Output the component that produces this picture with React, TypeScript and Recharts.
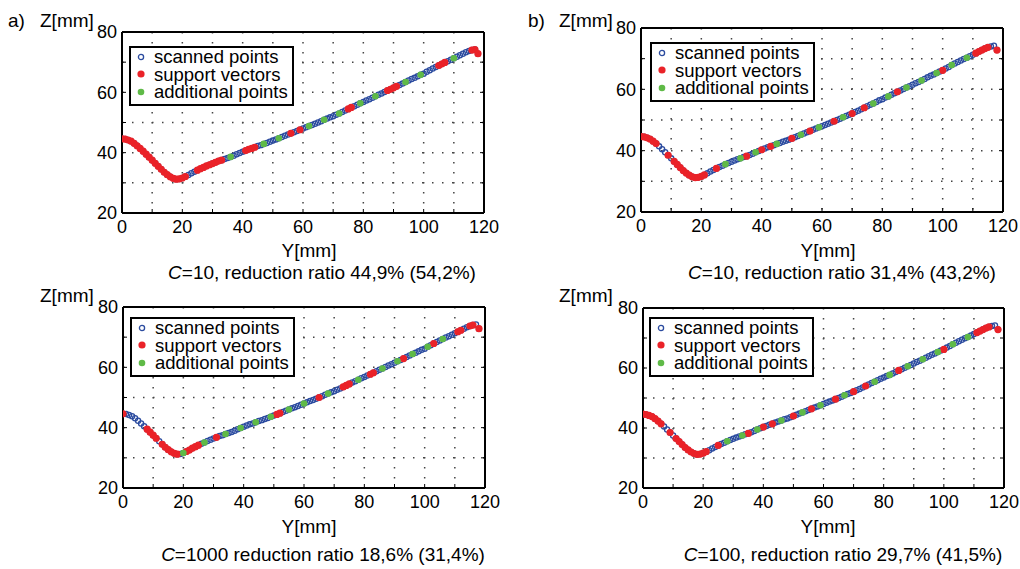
import React from "react";
import { CartesianGrid, Legend, Scatter, ScatterChart, XAxis, YAxis } from "recharts";

const BLUE = "#2b4b9f";
const RED = "#ea2228";
const GREEN = "#5fba47";
const FONT = "'Liberation Sans', Arial, Helvetica, sans-serif";

// scanned profile, Y[mm] -> Z[mm]
const profileY = [
  0, 1, 2, 3, 4, 5, 6, 7, 8, 9, 10, 11, 12, 13, 14, 15, 16, 17, 18, 19,
  20, 21, 22, 23, 24, 25, 26, 27, 28, 29, 30, 31, 32, 33, 34, 35, 36, 37, 38, 39,
  40, 41, 42, 43, 44, 45, 46, 47, 48, 49, 50, 51, 52, 53, 54, 55, 56, 57, 58, 59,
  60, 61, 62, 63, 64, 65, 66, 67, 68, 69, 70, 71, 72, 73, 74, 75, 76, 77, 78, 79,
  80, 81, 82, 83, 84, 85, 86, 87, 88, 89, 90, 91, 92, 93, 94, 95, 96, 97, 98, 99,
  100, 101, 102, 103, 104, 105, 106, 107, 108, 109, 110, 111, 112, 113, 114, 115, 116, 117, 118,
];
const profileZ = [
  44.6, 44.5, 44.2, 43.8, 43.1, 42.3, 41.4, 40.5, 39.5, 38.5,
  37.5, 36.5, 35.5, 34.5, 33.5, 32.7, 32.0, 31.5, 31.2, 31.3,
  31.6, 32.1, 32.6, 33.2, 33.7, 34.2, 34.7, 35.1, 35.6, 36.0,
  36.4, 36.8, 37.2, 37.5, 37.9, 38.2, 38.6, 39.0, 39.5, 39.9,
  40.3, 40.7, 41.1, 41.4, 41.8, 42.2, 42.5, 42.9, 43.2, 43.6,
  44.0, 44.4, 44.8, 45.2, 45.6, 46.0, 46.4, 46.8, 47.2, 47.6,
  48.0, 48.4, 48.8, 49.2, 49.6, 50.0, 50.4, 50.9, 51.3, 51.7,
  52.1, 52.6, 53.0, 53.5, 54.0, 54.5, 55.0, 55.4, 55.9, 56.4,
  56.8, 57.3, 57.7, 58.2, 58.7, 59.2, 59.6, 60.1, 60.6, 61.0,
  61.5, 62.0, 62.4, 62.9, 63.4, 63.9, 64.4, 64.8, 65.3, 65.8,
  66.2, 66.8, 67.3, 67.9, 68.4, 68.9, 69.4, 69.9, 70.3, 70.8,
  71.3, 71.8, 72.3, 72.8, 73.3, 73.7, 74.0, 74.2, 72.8,
];

const xTicks = [0, 10, 20, 30, 40, 50, 60, 70, 80, 90, 100, 110, 120];
const yTicks = [20, 30, 40, 50, 60, 70, 80];

// Y positions of support vectors / additional points for each panel
const supportA = [0, 1, 2, 3, 4, 5, 6, 7, 8, 9, 10, 11, 12, 13, 14, 15, 16, 17, 18, 19, 20, 21, 25, 26, 27, 28, 29, 30, 31, 32, 33, 41, 42, 43, 44, 56, 59, 75, 76, 88, 89, 90, 91, 105, 106, 107, 116, 117, 118];
const extraA = [36, 47, 52, 62, 67, 72, 79, 84, 94, 99, 110];
const supportB = [0, 1, 2, 3, 4, 5, 9, 11, 12, 13, 14, 15, 16, 17, 18, 19, 20, 21, 25, 35, 40, 43, 50, 56, 64, 70, 74, 85, 100, 111, 112, 113, 114, 115, 118];
const extraB = [28, 33, 38, 45, 53, 59, 67, 77, 82, 88, 93, 98, 103, 108];
const supportC = [0, 8, 9, 10, 11, 13, 14, 15, 16, 17, 18, 21, 22, 23, 24, 25, 31, 51, 52, 65, 73, 74, 75, 82, 83, 93, 103, 111, 112, 115, 116, 118];
const extraC = [20, 27, 34, 39, 44, 49, 55, 60, 68, 78, 86, 91, 96, 101, 106];
const supportD = [0, 1, 2, 3, 4, 5, 6, 9, 11, 12, 13, 14, 15, 16, 17, 18, 19, 20, 21, 25, 35, 40, 43, 50, 56, 64, 70, 74, 85, 100, 111, 112, 113, 114, 115, 118];
const extraD = [28, 33, 38, 46, 53, 59, 67, 77, 82, 88, 93, 98, 103, 108];

const legendLabels = ["scanned points", "support vectors", "additional points"];
const panelTags = ["a)", "b)", "", ""];
const captionValues = [
  "=10, reduction ratio 44,9% (54,2%)",
  "=10, reduction ratio 31,4% (43,2%)",
  "=1000 reduction ratio 18,6% (31,4%)",
  "=100, reduction ratio 29,7% (41,5%)",
];

const toPoints = (ys: number[]) => ys.map((y) => ({ y, z: profileZ[profileY.indexOf(y)] }));
const scanned = toPoints(profileY);

const OpenDot = (p: any) => (
  <circle cx={p.cx} cy={p.cy} r={2.6} fill="none" stroke={BLUE} strokeWidth={1.3} />
);
const RedDot = (p: any) => <circle cx={p.cx} cy={p.cy} r={3.6} fill={RED} />;
const GreenDot = (p: any) => <circle cx={p.cx} cy={p.cy} r={3.3} fill={GREEN} />;

const BottomTick = (p: any) => (
  <g>
    <line x1={p.x} x2={p.x} y1={p.y} y2={p.y - 4} stroke="#000" />
    {p.payload.value % 20 === 0 && (
      <text x={p.x} y={p.y + 19.5} textAnchor="middle" fontSize={18} fontFamily={FONT} fill="#000">
        {p.payload.value}
      </text>
    )}
  </g>
);
const TopTick = (p: any) => <line x1={p.x} x2={p.x} y1={p.y} y2={p.y + 4} stroke="#000" />;
const LeftTick = (p: any) => (
  <g>
    <line x1={p.x} x2={p.x + 4} y1={p.y} y2={p.y} stroke="#000" />
    {p.payload.value % 20 === 0 && (
      <text x={p.x - 5} y={p.y} dy="0.35em" textAnchor="end" fontSize={18} fontFamily={FONT} fill="#000">
        {p.payload.value}
      </text>
    )}
  </g>
);
const RightTick = (p: any) => <line x1={p.x} x2={p.x - 4} y1={p.y} y2={p.y} stroke="#000" />;

const LegendBox = () => (
  <div
    style={{
      width: 165,
      height: 60,
      boxSizing: "border-box",
      border: "2px solid #000",
      background: "#fff",
      fontFamily: FONT,
      fontSize: 18.5,
      color: "#000",
    }}
  >
    {legendLabels.map((label, i) => (
      <div key={label} style={{ display: "flex", alignItems: "center", height: 17.5 }}>
        <svg width={10} height={10} style={{ marginLeft: 5, marginRight: 8, flex: "none" }}>
          {i === 0 && <circle cx={5} cy={5} r={2.6} fill="none" stroke={BLUE} strokeWidth={1.3} />}
          {i === 1 && <circle cx={5} cy={5} r={3.6} fill={RED} />}
          {i === 2 && <circle cx={5} cy={5} r={3.3} fill={GREEN} />}
        </svg>
        <div style={{ whiteSpace: "nowrap", height: 17.5, lineHeight: "17.5px" }}>{label}</div>
      </div>
    ))}
  </div>
);

const axisLine = { stroke: "#000", strokeWidth: 2 };

type PanelProps = {
  left: number;
  top: number;
  height: number;
  plot: { top: number; right: number; bottom: number; left: number };
  legendAt: [number, number];
  support: number[];
  extra: number[];
};

// each axis takes 1px, so margins are the plot edges minus 1
const Panel = ({ left, top, height, plot, legendAt, support, extra }: PanelProps) => (
  <div style={{ position: "absolute", left, top }}>
    <ScatterChart
      width={510}
      height={height}
      margin={{ top: plot.top - 1, right: plot.right - 1, bottom: plot.bottom - 1, left: plot.left - 1 }}
    >
      <CartesianGrid stroke="#444" strokeWidth={1.5} strokeDasharray="1.5 8.5" />
      <XAxis
        type="number"
        dataKey="y"
        domain={[0, 120]}
        ticks={xTicks}
        interval={0}
        allowDataOverflow
        height={1}
        tickSize={0}
        tickMargin={0}
        tickLine={false}
        axisLine={axisLine}
        tick={BottomTick}
      />
      <XAxis
        xAxisId="top"
        orientation="top"
        type="number"
        domain={[0, 120]}
        ticks={xTicks}
        interval={0}
        allowDataOverflow
        height={1}
        tickSize={0}
        tickMargin={0}
        tickLine={false}
        axisLine={axisLine}
        tick={TopTick}
      />
      <YAxis
        type="number"
        dataKey="z"
        domain={[20, 80]}
        ticks={yTicks}
        interval={0}
        allowDataOverflow
        width={1}
        tickSize={0}
        tickMargin={0}
        tickLine={false}
        axisLine={axisLine}
        tick={LeftTick}
      />
      <YAxis
        yAxisId="right"
        orientation="right"
        type="number"
        domain={[20, 80]}
        ticks={yTicks}
        interval={0}
        allowDataOverflow
        width={1}
        tickSize={0}
        tickMargin={0}
        tickLine={false}
        axisLine={axisLine}
        tick={RightTick}
      />
      <Scatter data={scanned} shape={OpenDot} isAnimationActive={false} />
      <Scatter data={toPoints(support)} shape={RedDot} isAnimationActive={false} />
      <Scatter data={toPoints(extra)} shape={GreenDot} isAnimationActive={false} />
      <Legend
        layout="vertical"
        align="center"
        verticalAlign="middle"
        wrapperStyle={{ left: legendAt[0], top: legendAt[1], width: "auto", height: "auto" }}
        content={() => <LegendBox />}
      />
    </ScatterChart>
  </div>
);

// label positions for each panel (page coordinates)
const labelPos = [
  { tagX: 8, zX: 40, zY: 26.5, yX: 309, yY: 257, cX: 322, cY: 279 },
  { tagX: 528, zX: 559, zY: 26.5, yX: 828, yY: 257, cX: 842, cY: 279 },
  { tagX: 0, zX: 40, zY: 302, yX: 309, yY: 533, cX: 323, cY: 561 },
  { tagX: 0, zX: 559, zY: 302, yX: 828, yY: 533, cX: 843, cY: 561 },
];

export default function App() {
  return (
    <div style={{ position: "absolute", left: 0, top: 0, width: 1020, height: 569, background: "#fff", overflow: "hidden" }}>
      <Panel left={0} top={0} height={285} plot={{ top: 32, right: 26, bottom: 72, left: 122 }} legendAt={[129, 46]} support={supportA} extra={extraA} />
      <Panel left={510} top={0} height={285} plot={{ top: 28, right: 17, bottom: 73, left: 131 }} legendAt={[140, 42]} support={supportB} extra={extraB} />
      <Panel left={0} top={285} height={284} plot={{ top: 22, right: 25, bottom: 81, left: 123 }} legendAt={[130, 32]} support={supportC} extra={extraC} />
      <Panel left={510} top={285} height={284} plot={{ top: 23, right: 16, bottom: 81, left: 133 }} legendAt={[139, 32]} support={supportD} extra={extraD} />
      <svg width={1020} height={569} style={{ position: "absolute", left: 0, top: 0, pointerEvents: "none" }} fontFamily={FONT} fill="#000">
        {labelPos.map((p, i) => (
          <g key={i}>
            {panelTags[i] && (
              <text x={p.tagX} y={p.zY} fontSize={19}>
                {panelTags[i]}
              </text>
            )}
            <text x={p.zX} y={p.zY} fontSize={19}>
              Z[mm]
            </text>
            <text x={p.yX} y={p.yY} fontSize={19} textAnchor="middle">
              Y[mm]
            </text>
            <text x={p.cX} y={p.cY} fontSize={19} textAnchor="middle">
              <tspan fontStyle="italic">C</tspan>
              {captionValues[i]}
            </text>
          </g>
        ))}
      </svg>
    </div>
  );
}
